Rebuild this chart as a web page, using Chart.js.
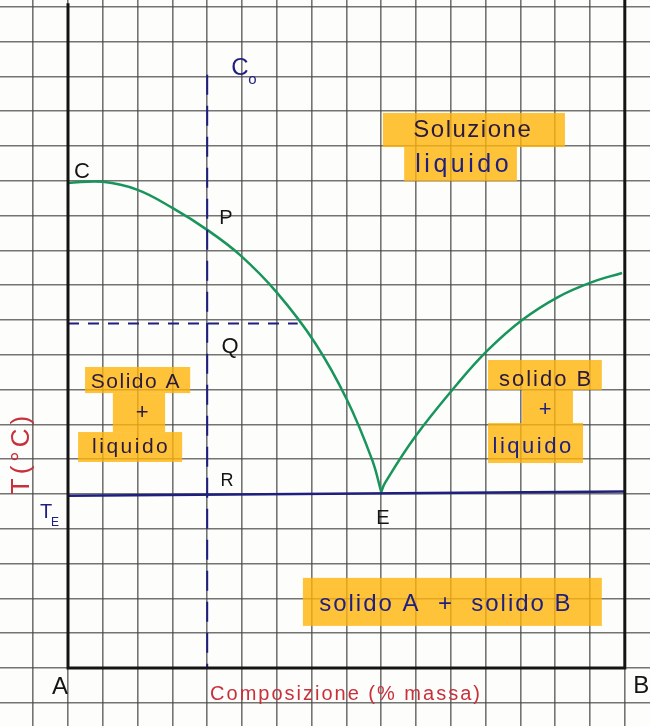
<!DOCTYPE html>
<html lang="it">
<head>
    <meta charset="UTF-8">
    <title>Diagramma di fase eutettico A-B</title>
    <script src="https://cdn.jsdelivr.net/npm/chart.js"></script>
    <style>
        html, body { margin: 0; padding: 0; background: #fdfdfb; overflow: hidden; }
        #chart-container { width: 650px; height: 726px; }
    </style>
</head>
<body>
    <div id="chart-container">
        <canvas id="phaseChart" width="650" height="726"></canvas>
    </div>

    <script>
        // Units are grid squares: x = composition (0 = A, 16 = B), y = temperature
        const compA = 0;
        const compB = 16;
        const compC0 = 4;
        const tempTop = 19.1;
        const tempEutectic = [4.95, 5.07];   // left end, right end
        const tempQ = 9.9;
        const compQEnd = 6.6;
        const liquidusAx = [0, 1, 2, 3, 4, 4.94, 6.01, 7.1, 8.02, 8.74, 9.0];
        const liquidusAy = [13.94, 13.97, 13.74, 13.22, 12.59, 11.87, 10.78, 9.34, 7.70, 5.98, 5.06];
        const liquidusBx = [9.0, 9.11, 9.97, 11.21, 12.07, 13.05, 14.08, 15.06, 15.92];
        const liquidusBy = [5.06, 5.32, 6.64, 8.19, 9.14, 10.0, 10.66, 11.09, 11.35];

        const toPoints = (xs, ys) => xs.map((x, i) => ({ x: x, y: ys[i] }));

        const navy = '#1f1f80';
        const green = '#17955a';
        const red = '#c8303c';
        const ink = '#141414';
        const dark = '#2a1a40';
        const marker = 'rgba(255, 180, 10, 0.8)';
        const hand = '"Liberation Sans", "DejaVu Sans", sans-serif';

        // highlighter boxes: [x1, x2, yTop, yBottom]
        const highlights = [
            [9.05, 14.28, 15.95, 14.97],
            [9.66, 12.90, 14.97, 13.99],
            [0.49, 3.51, 8.65, 7.90],
            [1.29, 2.79, 7.90, 6.78],
            [0.29, 3.28, 6.78, 5.92],
            [12.07, 15.34, 8.85, 7.99],
            [13.05, 14.51, 7.99, 7.04],
            [12.07, 14.80, 7.04, 5.89],
            [6.75, 15.34, 2.59, 1.21]
        ];

        // handwritten labels, placed in grid units (ls = letter spacing)
        const labels = [
            { t: 'C', x: 0.4, y: 14.25, c: ink, s: 22 },
            { t: 'C', x: 4.94, y: 17.24, c: navy, s: 24 },
            { t: 'o', x: 5.30, y: 16.90, c: navy, s: 15 },
            { t: 'P', x: 4.54, y: 12.93, c: ink, s: 20 },
            { t: 'Q', x: 4.66, y: 9.22, c: ink, s: 22 },
            { t: 'R', x: 4.57, y: 5.37, c: ink, s: 18 },
            { t: 'E', x: 9.05, y: 4.31, c: ink, s: 20 },
            { t: 'T', x: -0.63, y: 4.48, c: navy, s: 20 },
            { t: 'E', x: -0.37, y: 4.18, c: navy, s: 12 },
            { t: 'A', x: -0.23, y: -0.57, c: ink, s: 24 },
            { t: 'B', x: 16.47, y: -0.52, c: ink, s: 24 },
            { t: 'Composizione (% massa)', x: 7.96, y: -0.75, c: red, s: 20, ls: 2 },
            { t: 'T(°C)', x: -1.32, y: 6.12, c: red, s: 26, ls: 4, rot: true },
            { t: 'Soluzione', x: 11.61, y: 15.45, c: dark, s: 24, ls: 1.5 },
            { t: 'liquido', x: 11.32, y: 14.45, c: navy, s: 25, ls: 3.5 },
            { t: 'Solido A', x: 1.93, y: 8.22, c: dark, s: 21, ls: 1.5 },
            { t: '+', x: 2.13, y: 7.32, c: dark, s: 22 },
            { t: 'liquido', x: 1.78, y: 6.35, c: dark, s: 21, ls: 2.5 },
            { t: 'solido B', x: 13.71, y: 8.27, c: dark, s: 22, ls: 2 },
            { t: '+', x: 13.71, y: 7.42, c: navy, s: 22 },
            { t: 'liquido', x: 13.33, y: 6.34, c: navy, s: 22, ls: 2.5 },
            { t: 'solido A  +  solido B', x: 10.83, y: 1.82, c: navy, s: 24, ls: 2 }
        ];

        const notesPlugin = {
            id: 'notes',
            beforeDatasetsDraw(chart) {
                const { ctx, scales: { x, y } } = chart;
                ctx.save();
                ctx.fillStyle = marker;
                highlights.forEach(h => {
                    const x1 = x.getPixelForValue(h[0]);
                    const x2 = x.getPixelForValue(h[1]);
                    const y1 = y.getPixelForValue(h[2]);
                    const y2 = y.getPixelForValue(h[3]);
                    ctx.fillRect(x1, y1, x2 - x1, y2 - y1);
                });
                ctx.restore();
            },
            afterDatasetsDraw(chart) {
                const { ctx, scales: { x, y } } = chart;
                ctx.save();
                ctx.textAlign = 'center';
                ctx.textBaseline = 'middle';
                labels.forEach(l => {
                    const ls = l.ls || 0;
                    ctx.fillStyle = l.c;
                    ctx.font = l.s + 'px ' + hand;
                    ctx.letterSpacing = ls + 'px';
                    // trailing spacing shifts centred text, so nudge it back
                    const px = x.getPixelForValue(l.x) + ls / 2;
                    const py = y.getPixelForValue(l.y);
                    if (l.rot) {
                        ctx.save();
                        ctx.translate(px - ls / 2, py);
                        ctx.rotate(-Math.PI / 2);
                        ctx.fillText(l.t, ls / 2, 0);
                        ctx.restore();
                    } else {
                        ctx.fillText(l.t, px, py);
                    }
                });
                ctx.restore();
            }
        };

        const ctx = document.getElementById('phaseChart').getContext('2d');
        new Chart(ctx, {
            type: 'scatter',
            data: {
                datasets: [
                    {
                        // A-B frame
                        data: [{ x: compA, y: tempTop }, { x: compA, y: 0 }, { x: compB, y: 0 }, { x: compB, y: 19.3 }],
                        showLine: true, borderColor: ink, borderWidth: 3, pointRadius: 0
                    },
                    {
                        // eutectic isotherm
                        data: [{ x: compA, y: tempEutectic[0] }, { x: compB, y: tempEutectic[1] }],
                        showLine: true, borderColor: navy, borderWidth: 2.5, pointRadius: 0
                    },
                    {
                        // composition C0
                        data: [{ x: compC0, y: 17.05 }, { x: compC0, y: 0 }],
                        showLine: true, borderColor: navy, borderWidth: 2, borderDash: [20, 11], pointRadius: 0
                    },
                    {
                        // temperature at Q
                        data: [{ x: compA, y: tempQ }, { x: compQEnd, y: tempQ }],
                        showLine: true, borderColor: navy, borderWidth: 2, borderDash: [11, 9], pointRadius: 0
                    },
                    {
                        data: toPoints(liquidusAx, liquidusAy),
                        showLine: true, borderColor: green, borderWidth: 2.5, pointRadius: 0,
                        tension: 0.4
                    },
                    {
                        data: toPoints(liquidusBx, liquidusBy),
                        showLine: true, borderColor: green, borderWidth: 2.5, pointRadius: 0,
                        tension: 0.4
                    }
                ]
            },
            options: {
                responsive: false,
                animation: false,
                layout: { padding: 0, autoPadding: false },
                plugins: { legend: { display: false }, tooltip: { enabled: false } },
                scales: {
                    x: {
                        type: 'linear',
                        min: -68 / 34.8,
                        max: (650 - 68) / 34.8,
                        ticks: { display: false, stepSize: 1, includeBounds: false },
                        grid: { color: 'rgba(70,70,70,0.75)', lineWidth: 1.6, drawTicks: false },
                        border: { display: false }
                    },
                    y: {
                        type: 'linear',
                        min: -58 / 34.8,
                        max: 668 / 34.8,
                        ticks: { display: false, stepSize: 1, includeBounds: false },
                        grid: { color: 'rgba(70,70,70,0.75)', lineWidth: 1.6, drawTicks: false },
                        border: { display: false }
                    }
                }
            },
            plugins: [notesPlugin]
        });
    </script>
</body>
</html>
